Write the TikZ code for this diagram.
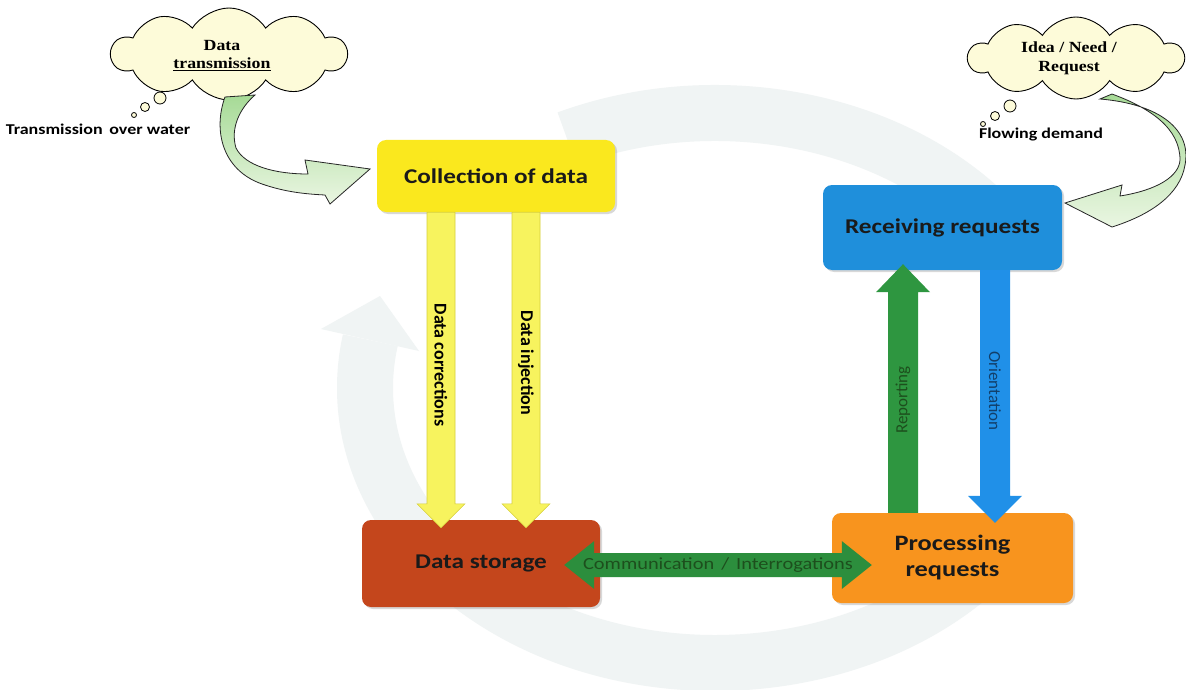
\documentclass[tikz,border=0pt]{standalone}
\usepackage{fontspec}
\usetikzlibrary{calc,shapes.symbols,shadows}
\newfontfamily\calfont[FakeStretch=1.2]{Carlito}
\newfontfamily\calplain{Carlito}
\newfontfamily\serfont[FakeStretch=1.15]{Liberation Serif}
\definecolor{ringc}{HTML}{F0F4F4}
\definecolor{collc}{HTML}{FAE81E}
\definecolor{recvc}{HTML}{1F8FDB}
\definecolor{storc}{HTML}{C4461C}
\definecolor{procc}{HTML}{F8941E}
\definecolor{yarrow}{HTML}{F7F35E}
\definecolor{yarrowd}{HTML}{D6CF3C}
\definecolor{garrow}{HTML}{2E9640}
\definecolor{barrow}{HTML}{2090E8}
\definecolor{cloudc}{HTML}{FDFBD9}
\definecolor{cgreen}{HTML}{A6DA96}
\definecolor{cpale}{HTML}{EAF6E2}
\definecolor{dgreen}{HTML}{1D4F1D}
\definecolor{dblue}{HTML}{123F6A}
\definecolor{boxtext}{HTML}{1A1A1A}
\newcommand\blockarrow[6]{% style, start, tip, shaft half width, head half width, head length
  \coordinate (bah) at ($(#3)!#6!(#2)$);
  \path[#1] ($(#2)!#4!90:(#3)$) -- ($(bah)!#4!-90:(#2)$) -- ($(bah)!#5!-90:(#2)$) -- (#3)
    -- ($(bah)!#5!90:(#2)$) -- ($(bah)!#4!90:(#2)$) -- ($(#2)!#4!-90:(#3)$) -- cycle;}
\newcommand\dblockarrow[6]{% style, tip A, tip B, shaft half, head half, head length
  \coordinate (dha) at ($(#2)!#6!(#3)$);
  \coordinate (dhb) at ($(#3)!#6!(#2)$);
  \path[#1] (#2) -- ($(dha)!#5!90:(#3)$) -- ($(dha)!#4!90:(#3)$) -- ($(dhb)!#4!-90:(#2)$)
    -- ($(dhb)!#5!-90:(#2)$) -- (#3) -- ($(dhb)!#5!90:(#2)$) -- ($(dhb)!#4!90:(#2)$)
    -- ($(dha)!#4!-90:(#3)$) -- ($(dha)!#5!-90:(#3)$) -- cycle;}
\tikzset{
  box/.style={rounded corners=9pt, inner sep=2pt, align=center, text=boxtext,
    font=\calfont\bfseries\fontsize{21}{24}\selectfont,
    drop shadow={shadow xshift=2pt, shadow yshift=-2pt, opacity=0.3}},
  thought/.style={cloud, cloud puffs=10, cloud puff arc=115, draw=black, line width=0.9pt,
    fill=cloudc, align=center},
  bubble/.style={draw=black, line width=0.8pt, fill=cloudc},
  curvedarrow/.style={draw=black!85, line width=0.8pt, top color=cgreen, bottom color=cpale},
  caption/.style={font=\calfont\bfseries\fontsize{15}{17}\selectfont, text=black},
  cloudtext/.style={font=\serfont\bfseries\fontsize{15.5}{19}\selectfont, align=center},
  vlabel/.style={font=\calplain\bfseries\fontsize{18}{20}\selectfont, text=black},
  ylw/.style={fill=yarrow, draw=yarrowd, line width=0.6pt},
  grn/.style={fill=garrow},
  blu/.style={fill=barrow}
}
\begin{document}
\begin{tikzpicture}[x=1pt, y=-1pt]
\useasboundingbox (0,0) rectangle (1186,690);
\fill[white] (0,0) rectangle (1186,690);
% faint background cycle
\draw[ringc, line width=56pt] (715,388) ++(245:350 and 275)
  arc[start angle=245, end angle=325, x radius=350, y radius=275];
\draw[ringc, line width=56pt] (715,388) ++(40:350 and 275)
  arc[start angle=40, end angle=190, x radius=350, y radius=275];
\fill[ringc] (419,351) -- (380,296) -- (321,329) -- cycle;

% clouds
\node[thought, minimum width=235pt, minimum height=92pt] (c1) at (229,54) {};
\node[cloudtext] (c1t) at (222,56) {Data\\[-1pt]\underline{transmission}};
\draw[bubble] (160,98) circle[radius=6];
\draw[bubble] (145,107) circle[radius=4.5];
\draw[bubble] (134,115) circle[radius=2.5];
\node[caption] (t1) at (98,129) {Transmission\, over water};

\node[thought, minimum width=215pt, minimum height=82pt] (c2) at (1076,58) {};
\node[cloudtext] (c2t) at (1069,58) {Idea / Need /\\Request};
\draw[bubble] (1010,106) circle[radius=6];
\draw[bubble] (995,116) circle[radius=4.5];
\draw[bubble] (983,124) circle[radius=2.5];
\node[caption] (t2) at (1041,135) {Flowing demand};

% curved arrows from the clouds
\path[curvedarrow] (225,97) .. controls (213,130) and (222,170) .. (262,184)
  .. controls (285,192) and (305,194) .. (325,195) -- (330,204) -- (370,169) -- (305,160)
  -- (308,174) .. controls (275,174) and (245,166) .. (236,148)
  .. controls (230,128) and (240,108) .. (255,95) -- cycle;
\path[curvedarrow] (1100,99) .. controls (1160,104) and (1192,130) .. (1185,165)
  .. controls (1180,195) and (1150,215) .. (1112,227) -- (1065,203) -- (1122,185)
  -- (1120,196) .. controls (1158,190) and (1179,176) .. (1180,160)
  .. controls (1180,128) and (1150,108) .. (1112,94) -- cycle;

% boxes
\node[box, fill=collc, minimum width=238pt, minimum height=72pt] (coll) at (496,176) {Collection of data};
\node[box, fill=recvc, minimum width=239pt, minimum height=85pt] (recv) at (942.5,227.5) {Receiving requests};
\node[box, fill=storc, minimum width=238pt, minimum height=87pt] (stor) at (481,563.5) {Data storage};
\node[box, fill=procc, minimum width=241pt, minimum height=90pt, font=\calfont\bfseries\fontsize{22}{26}\selectfont] (proc) at (952.5,558) {Processing\\requests};

% connectors
\coordinate (y1a) at ($(coll.south)+(-55,0)$);
\coordinate (y1b) at ($(stor.north)+(-40,8)$);
\coordinate (y2a) at ($(coll.south)+(30,0)$);
\coordinate (y2b) at ($(stor.north)+(45,8)$);
\coordinate (ga) at ($(proc.north)+(-49.5,0)$);
\coordinate (gb) at ($(recv.south)+(-39.5,-6)$);
\coordinate (ba) at ($(recv.south)+(52.5,0)$);
\coordinate (bb) at ($(proc.north)+(42.5,10)$);
\coordinate (ca) at ($(stor.east)+(-36,1.5)$);
\coordinate (cb) at ($(proc.west)+(40,7)$);
\blockarrow{ylw}{y1a}{y1b}{14pt}{24pt}{24pt}
\blockarrow{ylw}{y2a}{y2b}{14pt}{24pt}{24pt}
\blockarrow{grn}{ga}{gb}{15pt}{27pt}{28pt}
\blockarrow{blu}{ba}{bb}{15pt}{27pt}{27pt}
\dblockarrow{fill=garrow!95!black}{ca}{cb}{12pt}{24pt}{30pt}

% connector labels
\node[vlabel, rotate=-90] (l1) at (441,365) {Data corrections};
\node[vlabel, rotate=-90] (l2) at (526,363) {Data injection};
\node[font=\calplain\fontsize{17}{19}\selectfont, text=dgreen, rotate=90] (l3) at (903,400) {Reporting};
\node[font=\calplain\fontsize{17}{19}\selectfont, text=dblue, rotate=-90] (l4) at (995,391) {Orientation};
\node[font=\calfont\fontsize{17}{19}\selectfont, text=dgreen] (l5) at (718,565) {Communication\hspace{7pt}/\hspace{7pt}Interrogations};
\end{tikzpicture}
\end{document}
